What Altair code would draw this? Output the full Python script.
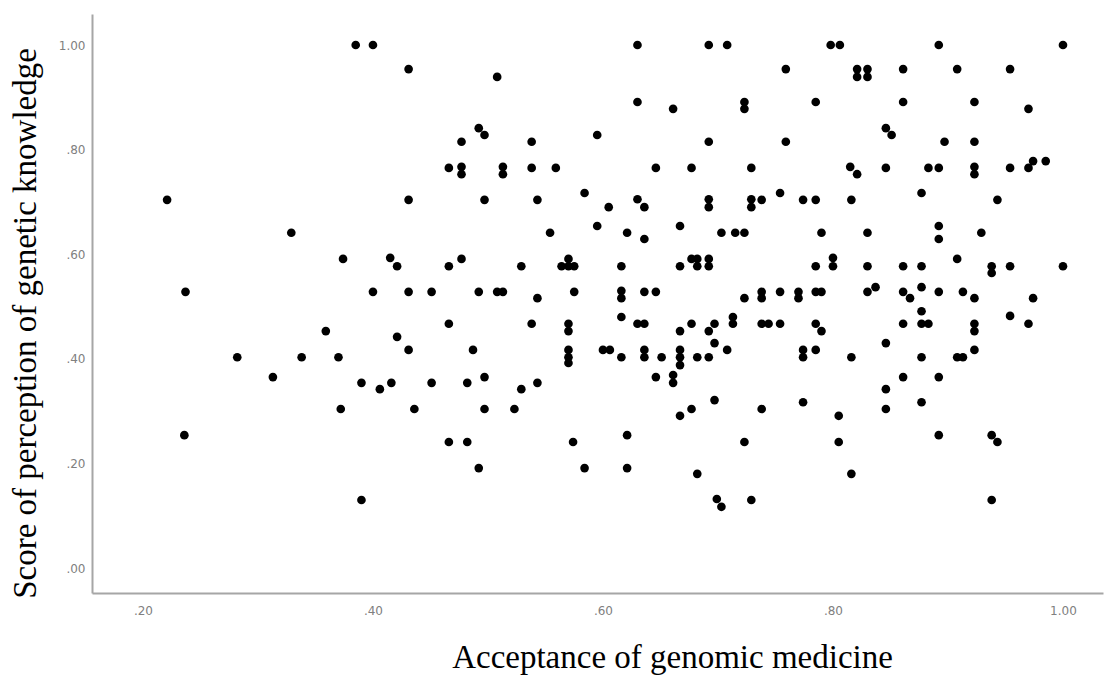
import altair as alt
import pandas as pd

# Acceptance of genomic medicine (x) and score of perception of genetic knowledge (y)
acceptance = [
    0.385, 0.400, 0.221, 0.329, 0.374, 0.237, 0.400, 0.359, 0.282, 0.338,
    0.370, 0.313, 0.390, 0.372, 0.236, 0.390,
    0.630, 0.692, 0.708, 0.431, 0.508, 0.630, 0.661, 0.723, 0.723, 0.492,
    0.497, 0.477, 0.538, 0.595, 0.692, 0.466, 0.477, 0.477, 0.513, 0.513,
    0.538, 0.559, 0.646, 0.677, 0.729, 0.431, 0.497, 0.543, 0.584, 0.605,
    0.630, 0.636, 0.692, 0.692, 0.729, 0.729, 0.554, 0.595, 0.621, 0.636,
    0.667, 0.703, 0.715, 0.723, 0.415, 0.421, 0.466, 0.477, 0.529, 0.564,
    0.570, 0.570, 0.575, 0.616, 0.667, 0.677, 0.682, 0.682, 0.692, 0.692,
    0.431, 0.451, 0.492, 0.508, 0.513, 0.543, 0.575, 0.616, 0.616, 0.636,
    0.646, 0.723,
    0.798, 0.806, 0.892, 1.000, 0.759, 0.821, 0.821, 0.830, 0.830, 0.861,
    0.908, 0.954, 0.785, 0.861, 0.923, 0.970, 0.846, 0.851, 0.759, 0.897,
    0.923, 0.815, 0.821, 0.846, 0.883, 0.892, 0.923, 0.923, 0.954, 0.970,
    0.974, 0.985, 0.738, 0.754, 0.774, 0.785, 0.816, 0.877, 0.943, 0.790,
    0.830, 0.892, 0.892, 0.929, 0.785, 0.800, 0.800, 0.830, 0.861, 0.877,
    0.908, 0.938, 0.938, 0.954, 1.000, 0.738, 0.738, 0.754, 0.770, 0.770,
    0.785, 0.790, 0.830, 0.837, 0.861, 0.867, 0.877, 0.877, 0.892, 0.913,
    0.923, 0.954, 0.974,
    0.616, 0.466, 0.538, 0.570, 0.570, 0.570, 0.570, 0.570, 0.421, 0.431,
    0.487, 0.416, 0.406, 0.451, 0.482, 0.497, 0.529, 0.543, 0.436, 0.497,
    0.523, 0.466, 0.482, 0.492, 0.574, 0.584, 0.621, 0.621, 0.600, 0.606,
    0.616, 0.630, 0.636, 0.636, 0.636, 0.646, 0.651, 0.667, 0.677, 0.667,
    0.667, 0.667, 0.661, 0.661, 0.682, 0.692, 0.692, 0.697, 0.697, 0.708,
    0.713, 0.713, 0.667, 0.677, 0.697, 0.723, 0.682, 0.699, 0.703, 0.729,
    0.738, 0.744, 0.754, 0.785, 0.790, 0.861, 0.877, 0.883, 0.923, 0.923,
    0.970, 0.774, 0.774, 0.785, 0.816, 0.846, 0.877, 0.908, 0.913, 0.923,
    0.861, 0.892, 0.846, 0.738, 0.774, 0.805, 0.846, 0.877, 0.805, 0.892,
    0.938, 0.943, 0.816, 0.938,
]

knowledge = [
    1.000, 1.000, 0.704, 0.641, 0.591, 0.528, 0.528, 0.453, 0.403, 0.403,
    0.403, 0.365, 0.354, 0.304, 0.254, 0.130,
    1.000, 1.000, 1.000, 0.954, 0.939, 0.891, 0.878, 0.891, 0.878, 0.841,
    0.828, 0.815, 0.815, 0.828, 0.815, 0.765, 0.767, 0.753, 0.767, 0.753,
    0.765, 0.765, 0.765, 0.765, 0.765, 0.704, 0.704, 0.704, 0.717, 0.690,
    0.705, 0.690, 0.705, 0.690, 0.705, 0.690, 0.641, 0.654, 0.641, 0.629,
    0.654, 0.641, 0.641, 0.641, 0.593, 0.577, 0.577, 0.591, 0.577, 0.577,
    0.591, 0.577, 0.577, 0.577, 0.577, 0.591, 0.591, 0.577, 0.591, 0.577,
    0.528, 0.528, 0.528, 0.528, 0.528, 0.516, 0.528, 0.530, 0.516, 0.528,
    0.528, 0.516,
    1.000, 1.000, 1.000, 1.000, 0.954, 0.954, 0.939, 0.954, 0.939, 0.954,
    0.954, 0.954, 0.891, 0.891, 0.891, 0.878, 0.841, 0.828, 0.815, 0.815,
    0.815, 0.767, 0.753, 0.765, 0.765, 0.765, 0.767, 0.753, 0.765, 0.765,
    0.778, 0.778, 0.704, 0.717, 0.704, 0.704, 0.704, 0.717, 0.704, 0.641,
    0.641, 0.654, 0.629, 0.641, 0.577, 0.593, 0.577, 0.577, 0.577, 0.577,
    0.591, 0.577, 0.564, 0.577, 0.577, 0.528, 0.516, 0.528, 0.528, 0.516,
    0.528, 0.528, 0.528, 0.537, 0.528, 0.516, 0.537, 0.491, 0.528, 0.528,
    0.516, 0.482, 0.516,
    0.480, 0.467, 0.467, 0.467, 0.453, 0.417, 0.403, 0.392, 0.442, 0.417,
    0.417, 0.354, 0.342, 0.354, 0.354, 0.365, 0.342, 0.354, 0.304, 0.304,
    0.304, 0.241, 0.241, 0.191, 0.241, 0.191, 0.254, 0.191, 0.417, 0.417,
    0.403, 0.467, 0.467, 0.417, 0.403, 0.365, 0.403, 0.453, 0.467, 0.417,
    0.403, 0.388, 0.369, 0.354, 0.403, 0.403, 0.453, 0.467, 0.430, 0.417,
    0.480, 0.467, 0.291, 0.304, 0.321, 0.241, 0.180, 0.132, 0.117, 0.130,
    0.467, 0.467, 0.467, 0.467, 0.453, 0.467, 0.467, 0.467, 0.467, 0.453,
    0.467, 0.417, 0.403, 0.417, 0.403, 0.430, 0.403, 0.403, 0.403, 0.417,
    0.365, 0.365, 0.342, 0.304, 0.317, 0.291, 0.304, 0.317, 0.241, 0.254,
    0.254, 0.241, 0.180, 0.130,
]

x_ticks = [0.2, 0.4, 0.6, 0.8, 1.0]
y_ticks = [0.0, 0.2, 0.4, 0.6, 0.8, 1.0]

df = pd.DataFrame({"acceptance": acceptance, "knowledge": knowledge})

# SPSS-style labels: ".20", ".40", ..., "1.00"
label_expr = (
    "datum.value < 1 ? substring(format(datum.value, '.2f'), 1)"
    " : format(datum.value, '.2f')"
)

common_axis = dict(
    grid=False,
    ticks=False,
    domainColor="#a6a6a6",
    domainWidth=2,
    labelColor="#808080",
    labelFont="DejaVu Sans",
    labelFontSize=12,
    labelExpr=label_expr,
    titleFont="Liberation Serif",
    titleFontSize=33,
    titleFontWeight="normal",
    titleColor="#000000",
    titleBaseline="alphabetic",
    titleAlign="center",
)

chart = (
    alt.Chart(df)
    .mark_circle(size=75, color="#000000", opacity=1)
    .encode(
        x=alt.X(
            "acceptance:Q",
            scale=alt.Scale(domain=[0.1557, 1.0348], nice=False, zero=False),
            axis=alt.Axis(
                values=x_ticks,
                title="Acceptance of genomic medicine",
                labelPadding=12,
                titleX=580,
                titleY=74,
                **common_axis,
            ),
        ),
        y=alt.Y(
            "knowledge:Q",
            scale=alt.Scale(domain=[-0.0478, 1.0593], nice=False, zero=False),
            axis=alt.Axis(
                values=y_ticks,
                title="Score of perception of genetic knowledge",
                labelPadding=7,
                titleX=-57,
                titleY=309,
                titleAngle=270,
                **common_axis,
            ),
        ),
    )
    .properties(
        width=1011,
        height=579,
        autosize=alt.AutoSizeParams(type="none"),
        padding={"left": 92, "top": 14, "right": 3, "bottom": 82},
        background="#ffffff",
    )
    .configure_view(strokeWidth=0)
)

chart.save("out.html", embed_options={"renderer": "svg", "actions": False})
